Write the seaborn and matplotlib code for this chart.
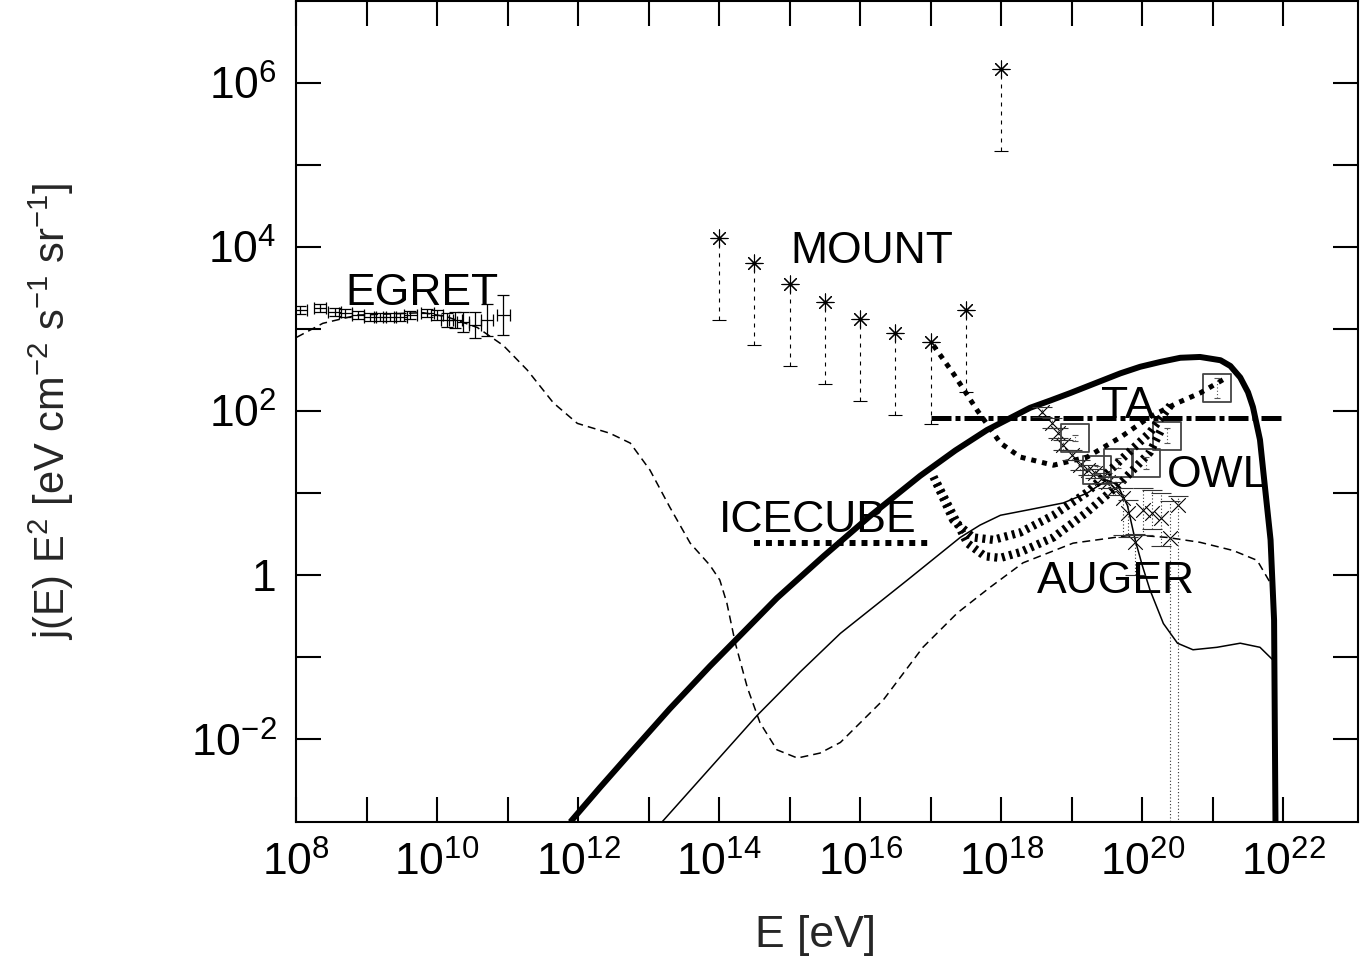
import numpy as np
import pandas as pd
import matplotlib
matplotlib.use("Agg")
import matplotlib.pyplot as plt
from matplotlib.ticker import FixedLocator, FuncFormatter, NullLocator
import seaborn as sns

# ---------------- data (log10 E [eV], log10 flux) ----------------
thick_logE = [11.89, 12.31, 12.70, 13.30, 13.87, 14.26, 14.82, 15.48, 16.14, 16.85, 17.35,
              17.80, 18.41, 18.70, 18.98, 19.69, 19.97, 20.26, 20.54, 20.82, 21.11, 21.25,
              21.39, 21.50, 21.57, 21.67, 21.72, 21.82, 21.87, 21.89]
thick_logF = [-3.01, -2.59, -2.21, -1.63, -1.11, -0.77, -0.28, 0.23, 0.72, 1.21, 1.52,
              1.77, 2.04, 2.13, 2.22, 2.46, 2.54, 2.60, 2.65, 2.66, 2.62, 2.55,
              2.41, 2.23, 2.05, 1.65, 1.24, 0.43, -0.55, -3.05]

thin_logE = [13.19, 14.54, 15.15, 15.72, 16.67, 17.42, 17.70, 17.99, 18.41, 18.88, 19.22,
             19.50, 19.65, 19.79, 19.90, 20.00, 20.11, 20.30, 20.50, 20.72, 21.06, 21.39,
             21.67, 21.86]
thin_logF = [-3.01, -1.71, -1.18, -0.71, -0.06, 0.46, 0.61, 0.73, 0.80, 0.88, 1.00,
             1.16, 1.10, 0.85, 0.43, 0.12, -0.18, -0.59, -0.83, -0.91, -0.88, -0.83,
             -0.88, -1.04]

dash_logE = [8.01, 8.38, 8.87, 9.80, 10.14, 10.57, 10.94, 11.28, 11.65, 11.99, 12.45, 12.74,
             13.02, 13.30, 13.59, 13.87, 14.01, 14.11, 14.23, 14.40, 14.58, 14.82, 15.11,
             15.43, 15.72, 16.33, 16.89, 17.38, 17.84, 18.31, 19.02, 19.87, 20.35, 20.82,
             21.29, 21.63, 21.82]
dash_logF = [2.90, 3.07, 3.17, 3.20, 3.15, 3.02, 2.80, 2.50, 2.10, 1.85, 1.73, 1.61,
             1.28, 0.83, 0.39, 0.12, -0.06, -0.34, -0.83, -1.37, -1.80, -2.13, -2.23,
             -2.17, -2.04, -1.52, -0.88, -0.46, -0.15, 0.15, 0.39, 0.49, 0.46, 0.40,
             0.30, 0.18, -0.10]

auger_logE = [17.04, 17.32, 17.66, 17.99, 18.27, 18.74, 19.22, 19.69, 20.11, 20.50, 20.82, 21.18]
auger_logF = [2.80, 2.46, 2.01, 1.61, 1.44, 1.34, 1.44, 1.68, 1.93, 2.10, 2.22, 2.40]

owl1_logE = [17.04, 17.32, 17.60, 17.89, 18.27, 18.74, 19.22, 19.69, 20.11, 20.40]
owl1_logF = [1.20, 0.67, 0.46, 0.43, 0.52, 0.73, 1.01, 1.40, 1.74, 2.07]
owl2_logE = [17.09, 17.52, 17.77, 17.99, 18.27, 18.74, 19.22, 19.69, 20.11, 20.28]
owl2_logF = [1.12, 0.39, 0.23, 0.21, 0.28, 0.46, 0.77, 1.12, 1.50, 1.79]

ta_logE = [17.0, 22.0]
ta_logF = [1.91, 1.91]
icecube_logE = [14.5, 16.96]
icecube_logF = [0.39, 0.39]

mount_logE = [14.0, 14.5, 15.0, 15.5, 16.0, 16.5, 17.0, 17.5, 18.0]
mount_logF = [4.11, 3.80, 3.55, 3.33, 3.12, 2.95, 2.84, 3.23, 6.17]
mount_down_dex = [1.0, 1.0, 1.0, 1.0, 1.0, 1.0, 1.0, 1.0, 1.0]

egret_logE = [8.06, 8.34, 8.55, 8.70, 8.88, 9.05, 9.19, 9.33, 9.48, 9.62, 9.86, 10.00,
              10.14, 10.26, 10.37, 10.54, 10.71, 10.94]
egret_logF = [3.23, 3.26, 3.21, 3.20, 3.17, 3.15, 3.15, 3.15, 3.15, 3.17, 3.20, 3.17,
              3.11, 3.11, 3.09, 3.05, 3.11, 3.17]
egret_yerr_dex = [0.05, 0.05, 0.05, 0.05, 0.05, 0.05, 0.05, 0.05, 0.05, 0.05, 0.05, 0.06,
                  0.08, 0.10, 0.12, 0.16, 0.19, 0.24]
egret_xerr_dex = [0.09] * 18

hires_logE = [18.58, 18.72, 18.81, 18.88, 19.01, 19.12, 19.23, 19.33, 19.43, 19.52, 19.62,
              19.73, 19.80, 20.01, 20.14, 20.26, 20.51, 19.90, 20.40]
hires_logF = [1.99, 1.85, 1.73, 1.59, 1.46, 1.34, 1.28, 1.24, 1.18, 1.13, 1.06,
              0.94, 0.76, 0.79, 0.76, 0.70, 0.85, 0.40, 0.45]
hires_up_dex = [0.06, 0.06, 0.06, 0.06, 0.06, 0.06, 0.06, 0.06, 0.06, 0.07, 0.08,
                0.12, 0.15, 0.27, 0.28, 0.30, 0.12, 0.10, 0.45]
hires_down_dex = [0.06, 0.06, 0.06, 0.06, 0.06, 0.06, 0.06, 0.06, 0.06, 0.07, 0.08,
                  0.45, 0.30, 0.30, 0.20, 0.35, 5.0, 0.40, 5.0]

agasa_logE = [19.05, 19.36, 19.66, 20.06, 20.35, 21.06]
agasa_logF = [1.67, 1.28, 1.37, 1.37, 1.70, 2.28]
agasa_err_dex = [0.04, 0.05, 0.06, 0.07, 0.09, 0.12]

labels = ["EGRET", "MOUNT", "ICECUBE", "TA", "OWL", "AUGER"]
label_logE = [9.79, 16.17, 15.40, 19.79, 21.07, 19.62]
label_logF = [3.29, 3.80, 0.53, 1.91, 1.07, -0.22]

# ---------------- style ----------------
sns.set_theme(style="ticks")
plt.rcParams["font.family"] = ["Liberation Sans", "DejaVu Sans"]
plt.rcParams["mathtext.fontset"] = "custom"
plt.rcParams["mathtext.rm"] = "Liberation Sans"
plt.rcParams["mathtext.it"] = "Liberation Sans:italic"
plt.rcParams["mathtext.bf"] = "Liberation Sans:bold"
FS = 32

fig = plt.figure(figsize=(13.69, 9.59), dpi=100)
ax = fig.add_axes([296 / 1369, 1 - 822 / 959, 1062 / 1369, 821 / 959])
ax.set_xscale("log")
ax.set_yscale("log")


def p(v):
    return 10.0 ** np.asarray(v, dtype=float)


def line(lx, ly, lw, ls):
    sns.lineplot(x=p(lx), y=p(ly), ax=ax, color="black", linewidth=lw, linestyle=ls,
                 estimator=None, sort=False, dash_capstyle="butt", solid_capstyle="butt",
                 solid_joinstyle="round")


line(dash_logE, dash_logF, 1.1, (0, (5.2, 3.3)))
line(thin_logE, thin_logF, 1.1, "-")
line(thick_logE, thick_logF, 4.3, "-")
line(ta_logE, ta_logF, 3.6, (0, (4.0, 0.8, 1.0, 0.8)))
line(icecube_logE, icecube_logF, 4.3, (0, (1.0, 1.0)))
line(auger_logE, auger_logF, 3.6, (0, (1.0, 1.2)))
line(owl1_logE, owl1_logF, 6.0, (0, (0.36, 0.55)))
line(owl2_logE, owl2_logF, 6.0, (0, (0.36, 0.55)))

# EGRET
ex = p(egret_logE)
ey = p(egret_logF)
eb = ax.errorbar(ex, ey,
                 xerr=[ex - ex * p(-np.array(egret_xerr_dex)), ex * p(egret_xerr_dex) - ex],
                 yerr=[ey - ey * p(-np.array(egret_yerr_dex)), ey * p(egret_yerr_dex) - ey],
                 fmt="none", ecolor="black", elinewidth=0.9, capsize=4, capthick=0.9)

# MOUNT
mx = p(mount_logE)
my = p(mount_logF)
eb = ax.errorbar(mx, my, yerr=[my - my * p(-np.array(mount_down_dex)), np.zeros_like(my)],
                 fmt="none", ecolor="black", elinewidth=0.8, capsize=5, capthick=0.8)
for c in eb[2]:
    c.set_linestyle((0, (3.6, 4.5)))
sns.scatterplot(x=mx, y=my, ax=ax, marker=(8, 2, 0), s=150, color="black", linewidth=0.8)

# HiRes-like crosses
hx = p(hires_logE)
hy = p(hires_logF)
eb = ax.errorbar(hx, hy, yerr=[hy - hy * p(-np.array(hires_down_dex)), hy * p(hires_up_dex) - hy],
                 fmt="none", ecolor="#333333", elinewidth=0.8, capsize=7, capthick=0.8)
for c in eb[2]:
    c.set_linestyle((0, (1.0, 2.0)))
sns.scatterplot(x=hx, y=hy, ax=ax, marker="x", s=110, color="black", linewidth=0.8)

# AGASA-like squares
sx = p(agasa_logE)
sy = p(agasa_logF)
eb = ax.errorbar(sx, sy, yerr=[sy - sy * p(-np.array(agasa_err_dex)), sy * p(agasa_err_dex) - sy],
                 fmt="none", ecolor="#555555", elinewidth=0.8, capsize=2, capthick=0.8)
for c in eb[2]:
    c.set_linestyle((0, (1.0, 2.0)))
sns.scatterplot(x=sx, y=sy, ax=ax, marker="s", s=400, color="black", linewidth=1.3)
sq = ax.collections[-1]
sq.set_facecolor("none")
sq.set_edgecolor("#444444")

# labels
for t, lx, ly in zip(labels, label_logE, label_logF):
    ax.text(p(lx), p(ly), t, fontsize=FS, ha="center", va="baseline", color="black")

# axes
ax.set_xlim(1e8, 10 ** 23.06)
ax.set_ylim(10 ** -3.01, 10 ** 7.0)

xt = p(np.arange(8, 23))
yt = p(np.arange(-2, 7))
ax.xaxis.set_major_locator(FixedLocator(xt))
ax.yaxis.set_major_locator(FixedLocator(yt))
ax.xaxis.set_minor_locator(NullLocator())
ax.yaxis.set_minor_locator(NullLocator())


def fmt(v, pos):
    e = int(round(np.log10(v)))
    if e % 2:
        return ""
    if e == 0:
        return "1"
    return r"$\mathregular{10^{%d}}$" % e


ax.xaxis.set_major_formatter(FuncFormatter(fmt))
ax.yaxis.set_major_formatter(FuncFormatter(fmt))
ax.tick_params(which="major", direction="in", length=18, width=1.5, top=True, right=True,
               labelsize=FS, colors="black")
ax.tick_params(axis="x", pad=14)
ax.tick_params(axis="y", pad=14)
for s in ax.spines.values():
    s.set_linewidth(1.5)
    s.set_color("black")
    s.set_visible(True)

ax.set_xlabel("E [eV]", fontsize=FS)
ax.set_ylabel(r"j(E) E$^{2}$ [eV cm$^{-2}$ s$^{-1}$ sr$^{-1}$]", fontsize=30)
ax.xaxis.set_label_coords(0.489, -0.113)
ax.yaxis.set_label_coords(-0.207, 0.5)

fig.savefig("out.png", dpi=100)
